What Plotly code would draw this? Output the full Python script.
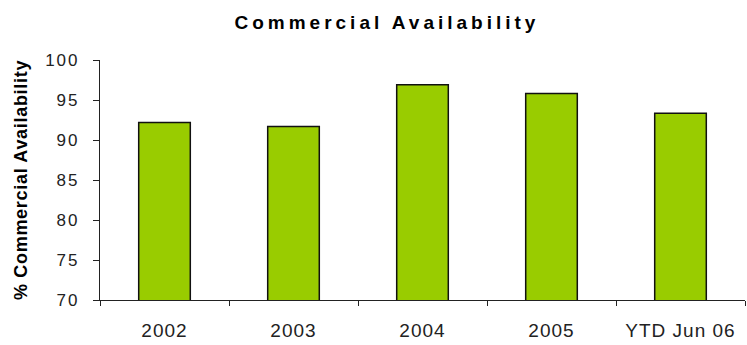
import plotly.graph_objects as go

# Commercial availability by period
periods = ["2002", "2003", "2004", "2005", "YTD Jun 06"]
availability = [92.2, 91.7, 96.9, 95.8, 93.35]
y_ticks = [70, 75, 80, 85, 90, 95, 100]


def spaced(text, px):
    """Wrap text in a span with extra letter spacing."""
    return f'<span style="letter-spacing:{px}px">{text}</span>'


fig = go.Figure(
    go.Bar(
        x=periods,
        y=availability,
        width=0.4,
        marker=dict(color="#99CC00", line=dict(color="#111111", width=1.5)),
    )
)

fig.update_layout(
    width=747,
    height=345,
    margin=dict(l=100, r=2, t=60, b=45),
    paper_bgcolor="white",
    plot_bgcolor="white",
    showlegend=False,
    bargap=0.6,
    title=dict(
        text=spaced("<b>Commercial Availability</b>", 4),
        x=0.518,
        xanchor="center",
        y=0.935,
        yanchor="middle",
        font=dict(family="Liberation Sans, Arial", size=19, color="black"),
    ),
    font=dict(family="Liberation Sans, Arial", color="#222222"),
)

fig.update_xaxes(
    type="category",
    tickvals=periods,
    ticktext=[spaced(p, 1) for p in periods],
    showline=True,
    linecolor="#222222",
    linewidth=1.2,
    ticks="outside",
    tickson="boundaries",
    ticklen=5,
    tickcolor="#222222",
    tickfont=dict(size=19, color="#222222"),
    ticklabelstandoff=13,
    showgrid=False,
)

fig.update_yaxes(
    range=[70, 100],
    tickvals=y_ticks,
    ticktext=[spaced(v, 2) for v in y_ticks],
    showline=True,
    linecolor="#222222",
    linewidth=1.2,
    ticks="outside",
    ticklen=6,
    tickcolor="#222222",
    tickfont=dict(size=17, color="#222222"),
    ticklabelstandoff=10,
    showgrid=False,
    zeroline=False,
    title=dict(
        text=spaced("<b>% Commercial Availability</b>", 0.7),
        font=dict(size=18, color="black"),
        standoff=12,
    ),
)

fig.write_html("out.html")
